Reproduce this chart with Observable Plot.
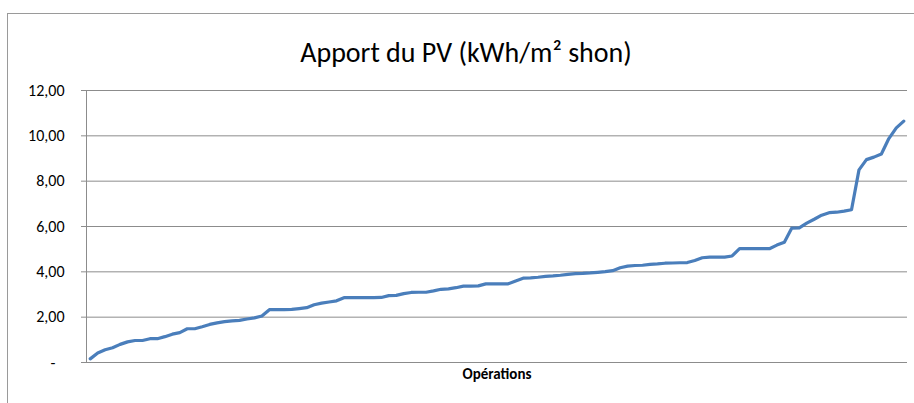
<!DOCTYPE html>
<html>
<head>
<meta charset="utf-8">
<script src="https://cdn.jsdelivr.net/npm/d3@7"></script>
<script src="https://cdn.jsdelivr.net/npm/@observablehq/plot@0.6"></script>
<style>
  html, body { margin: 0; padding: 0; background: #fff; overflow: hidden; }
  #wrap { position: relative; width: 914px; height: 403px; }
  #frame { position: absolute; left: 7px; top: 13px; width: 1000px; height: 500px;
           border-left: 1px solid #9a9a9a; border-top: 1px solid #9a9a9a; pointer-events: none; }
  #chart { position: absolute; left: 0; top: 0; }
</style>
</head>
<body>
<div id="wrap"><div id="chart"></div><div id="frame"></div></div>
<script>
const title = "Apport du PV (kWh/m² shon)";
const xLabel = "Opérations";
const yTicks = [0, 2, 4, 6, 8, 10, 12];
const yTickLabels = ["-", "2,00", "4,00", "6,00", "8,00", "10,00", "12,00"];
const values = [
  0.16, 0.42, 0.56, 0.65, 0.80, 0.91, 0.97, 0.97, 1.05, 1.05,
  1.14, 1.25, 1.32, 1.49, 1.49, 1.58, 1.68, 1.75, 1.80, 1.84,
  1.86, 1.92, 1.97, 2.05, 2.33, 2.33, 2.33, 2.34, 2.38, 2.42,
  2.55, 2.62, 2.67, 2.72, 2.86, 2.86, 2.86, 2.86, 2.86, 2.87,
  2.95, 2.96, 3.04, 3.09, 3.10, 3.10, 3.16, 3.23, 3.25, 3.30,
  3.37, 3.37, 3.38, 3.47, 3.47, 3.47, 3.47, 3.60, 3.72, 3.73,
  3.76, 3.80, 3.82, 3.85, 3.89, 3.92, 3.93, 3.95, 3.98, 4.01,
  4.05, 4.18, 4.25, 4.28, 4.29, 4.33, 4.35, 4.38, 4.39, 4.40,
  4.41, 4.50, 4.62, 4.65, 4.65, 4.65, 4.70, 5.02, 5.02, 5.02,
  5.02, 5.02, 5.18, 5.31, 5.93, 5.94, 6.15, 6.32, 6.50, 6.61,
  6.63, 6.68, 6.74, 8.50, 8.95, 9.06, 9.20, 9.88, 10.35, 10.65
];
const operations = values.map((_, i) => i + 1);
const data = operations.map((op, i) => ({op, v: values[i]}));
const ticks = yTicks.map((t, i) => ({t, label: yTickLabels[i]}));

const font = "Carlito, 'Liberation Sans Narrow', 'Open Sans', sans-serif";
const grid = "#8c8c8c";

const chart = Plot.plot({
  width: 914,
  height: 403,
  marginLeft: 86,
  marginRight: 7,
  marginTop: 90,
  marginBottom: 41,
  style: {fontFamily: font, background: "transparent"},
  x: {domain: [0.5, values.length + 0.5], axis: null},
  y: {domain: [0, 12], axis: null},
  marks: [
    Plot.ruleY(yTicks, {stroke: grid, strokeWidth: 1, insetLeft: -5}),
    Plot.ruleX([0.5], {stroke: grid, strokeWidth: 1}),
    Plot.text(ticks.filter(d => d.t !== 0), {
      x: 0.5, y: "t", text: "label", textAnchor: "end", dx: -22,
      fontSize: 16, fill: "#000"
    }),
    Plot.text(ticks.filter(d => d.t === 0), {
      x: 0.5, y: "t", text: "label", textAnchor: "end", dx: -31,
      fontSize: 16, fill: "#000"
    }),
    Plot.line(data, {x: "op", y: "v", stroke: "#4a7ebb", strokeWidth: 3.2,
      strokeLinejoin: "round", strokeLinecap: "round"}),
    Plot.text([title], {frameAnchor: "top", dy: -48, dx: -31, fontSize: 28, fill: "#000"}),
    Plot.text([xLabel], {frameAnchor: "bottom", dy: 16, fontSize: 15,
      fontWeight: "bold", fill: "#000"})
  ]
});
document.getElementById("chart").appendChild(chart);
</script>
</body>
</html>
